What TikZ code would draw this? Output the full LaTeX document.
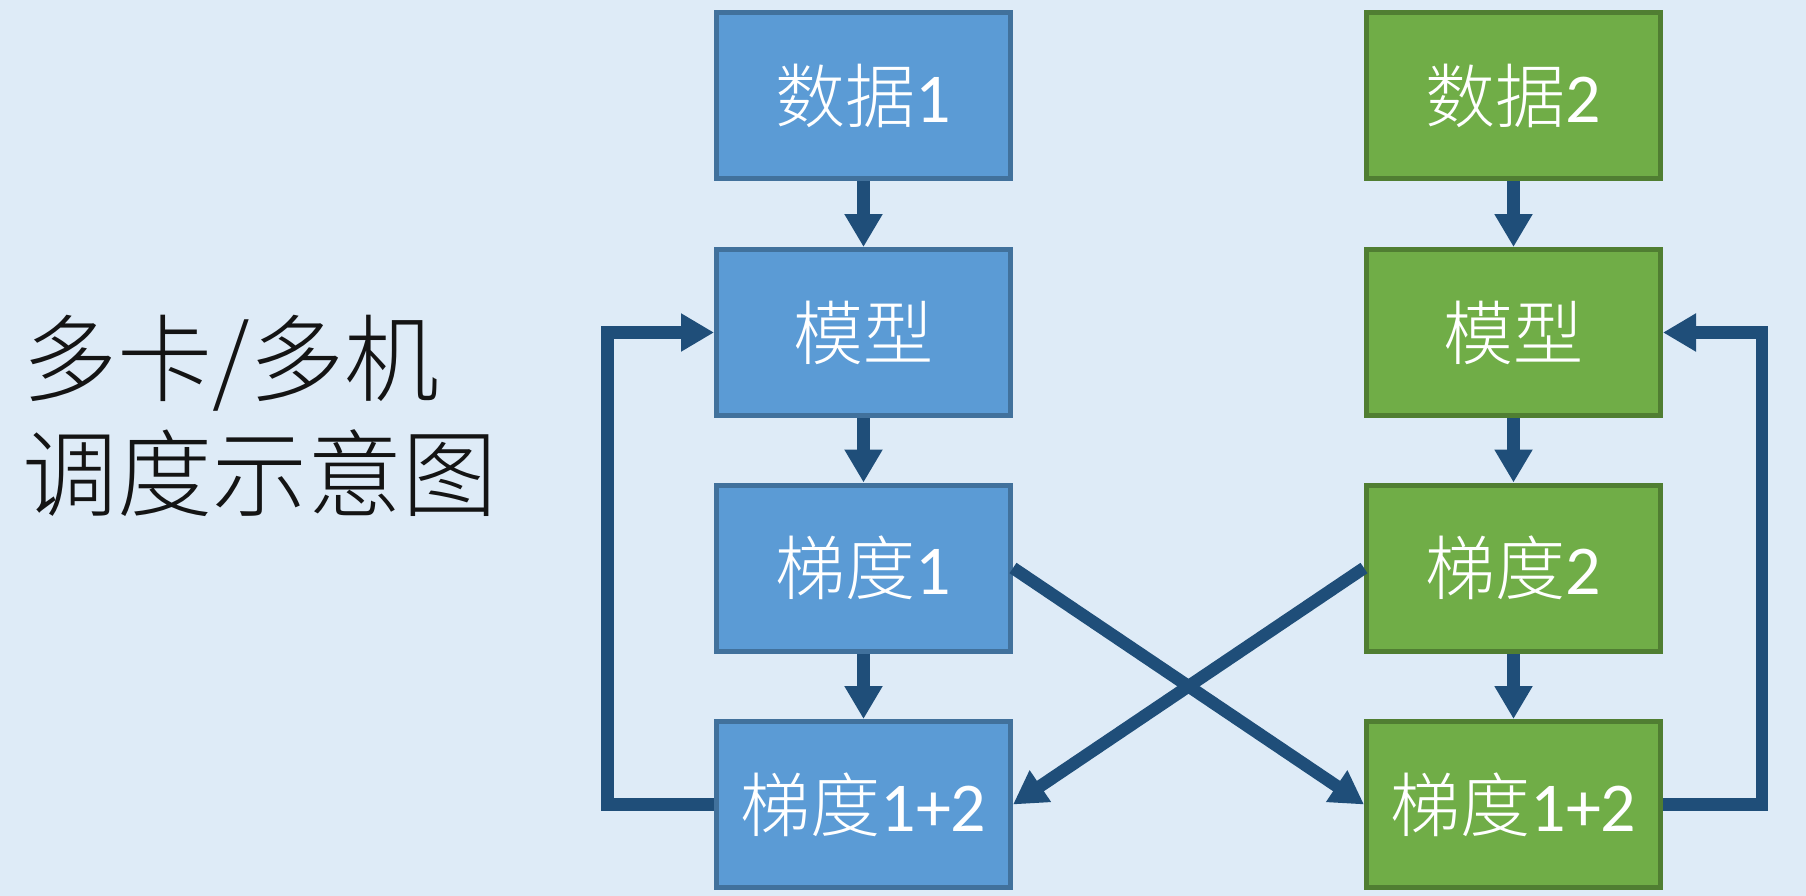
\documentclass[tikz,border=0pt]{standalone}
\usepackage{fontspec}
\setmainfont{Carlito}
\newfontfamily\cjk{Noto Sans CJK SC Light}
\usetikzlibrary{arrows.meta}
\definecolor{bgc}{HTML}{DEEBF7}
\definecolor{bluefill}{HTML}{5B9BD5}
\definecolor{blueedge}{HTML}{41719C}
\definecolor{greenfill}{HTML}{70AD47}
\definecolor{greenedge}{HTML}{507E32}
\definecolor{arrc}{HTML}{1F4E79}
\tikzset{
  box/.style={rectangle, line width=5pt, minimum width=294pt, minimum height=166pt,
    text=white, inner sep=0pt, font=\fontsize{70}{84}\selectfont},
  bluebox/.style={box, fill=bluefill, draw=blueedge},
  greenbox/.style={box, fill=greenfill, draw=greenedge},
  conn/.style={draw=arrc, line width=12.5pt, line join=miter,
    -{Triangle[width=36pt,length=33pt]}},
}
\begin{document}
\begin{tikzpicture}[x=1pt,y=-1pt]
\useasboundingbox (0,0) rectangle (1806,896);
\fill[bgc] (0,0) rectangle (1806,896);

\node[anchor=west, align=left, inner sep=0pt, text=black!92,
  font=\cjk\fontsize{95}{115}\selectfont] (title) at (22,416) {多卡/多机\\调度示意图};

\node[bluebox] (b1) at (863.5,95.5) {{\cjk 数据}1};
\node[bluebox] (b2) at (863.5,332.5) {\cjk 模型};
\node[bluebox] (b3) at (863.5,568) {{\cjk 梯度}1};
\node[bluebox] (b4) at (863.5,804.5) {{\cjk 梯度}1+2};

\node[greenbox] (g1) at (1513.5,95.5) {{\cjk 数据}2};
\node[greenbox] (g2) at (1513.5,332.5) {\cjk 模型};
\node[greenbox] (g3) at (1513.5,568) {{\cjk 梯度}2};
\node[greenbox] (g4) at (1513.5,804.5) {{\cjk 梯度}1+2};

\coordinate (lx) at (607.5,0);
\coordinate (rx) at (1762,0);

\draw[conn] (b1.south) -- (b2.north);
\draw[conn] (b2.south) -- (b3.north);
\draw[conn] (b3.south) -- (b4.north);
\draw[conn] (g1.south) -- (g2.north);
\draw[conn] (g2.south) -- (g3.north);
\draw[conn] (g3.south) -- (g4.north);

\draw[conn] (b4.west) -- (b4.west -| lx) -- (b2.west -| lx) -- (b2.west);
\draw[conn] (g4.east) -- (g4.east -| rx) -- (g2.east -| rx) -- (g2.east);

\draw[conn] (b3.east) -- (g4.west);
\draw[conn] (g3.west) -- (b4.east);
\end{tikzpicture}
\end{document}
